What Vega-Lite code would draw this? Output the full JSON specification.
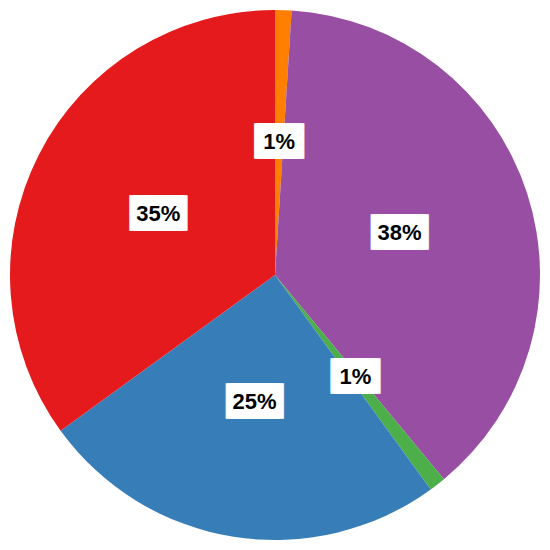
{
  "$schema": "https://vega.github.io/schema/vega-lite/v6.json",
  "autosize": {"type": "fit", "contains": "padding"},
  "width": 550,
  "height": 550,
  "padding": 0,
  "background": "white",
  "view": {"stroke": null},
  "data": {
    "values": [
      {"category": "A", "value": 1, "label": "1%"},
      {"category": "B", "value": 38, "label": "38%"},
      {"category": "C", "value": 1, "label": "1%"},
      {"category": "D", "value": 25, "label": "25%"},
      {"category": "E", "value": 35, "label": "35%"}
    ]
  },
  "encoding": {
    "theta": {"field": "value", "type": "quantitative", "stack": true},
    "order": {"field": "category", "type": "ordinal", "sort": "ascending"},
    "color": {
      "field": "category",
      "type": "nominal",
      "legend": null,
      "scale": {
        "domain": ["A", "B", "C", "D", "E"],
        "range": ["#ff7f00", "#984ea3", "#4daf4a", "#377eb8", "#e41a1c"]
      }
    }
  },
  "layer": [
    {"mark": {"type": "arc", "outerRadius": 265, "stroke": null}},
    {
      "mark": {"type": "text", "radius": 131, "dx": -2, "dy": -2, "font": "DejaVu Sans", "fontSize": 29, "stroke": "white", "strokeWidth": 1, "align": "center", "baseline": "middle"},
      "encoding": {"color": {"value": "white"}, "text": {"value": "██"}}
    },
    {
      "mark": {"type": "text", "radius": 131, "dx": 2, "dy": -2, "font": "DejaVu Sans", "fontSize": 29, "stroke": "white", "strokeWidth": 1, "align": "center", "baseline": "middle"},
      "encoding": {"color": {"value": "white"}, "text": {"value": "██"}}
    },
    {
      "mark": {"type": "text", "radius": 131, "dx": -6, "dy": -2, "font": "DejaVu Sans", "fontSize": 29, "stroke": "white", "strokeWidth": 1, "align": "center", "baseline": "middle"},
      "encoding": {
        "color": {"value": "white"},
        "text": {"condition": {"test": "length(datum.label) > 2", "value": "██"}, "value": ""}
      }
    },
    {
      "mark": {"type": "text", "radius": 131, "dx": 6, "dy": -2, "font": "DejaVu Sans", "fontSize": 29, "stroke": "white", "strokeWidth": 1, "align": "center", "baseline": "middle"},
      "encoding": {
        "color": {"value": "white"},
        "text": {"condition": {"test": "length(datum.label) > 2", "value": "██"}, "value": ""}
      }
    },
    {
      "mark": {"type": "text", "radius": 131, "dy": -2, "font": "Liberation Sans", "fontWeight": "bold", "fontSize": 22, "align": "center", "baseline": "middle"},
      "encoding": {
        "color": {"value": "black"},
        "text": {"field": "label", "type": "nominal"}
      }
    }
  ]
}
